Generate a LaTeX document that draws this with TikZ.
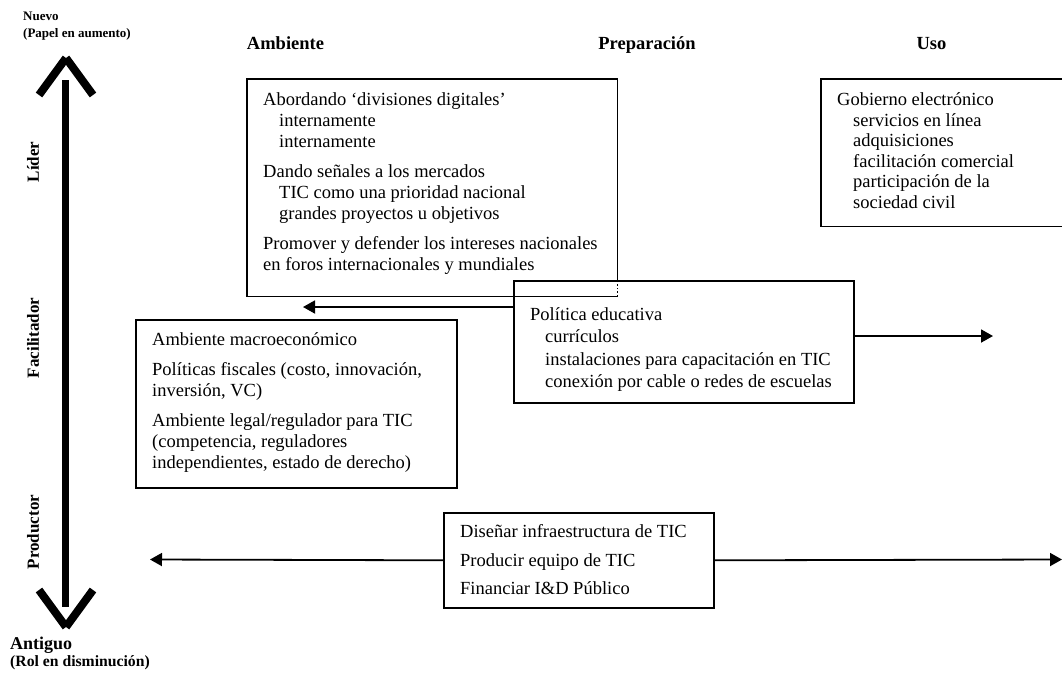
\documentclass[tikz,border=0pt]{standalone}
\usepackage{fontspec}
\setmainfont{Liberation Serif}
\usetikzlibrary{arrows.meta}
\begin{document}
\begin{tikzpicture}[x=1pt,y=-1pt,
  box/.style={draw, line width=1.6pt, rectangle, inner sep=0pt, anchor=north west},
  frame/.style={line width=1.6pt},
  txt/.style={anchor=base west, align=left, inner sep=0pt, font=\fontsize{18.5}{21}\selectfont},
  head/.style={anchor=base, inner sep=0pt, font=\fontsize{18.5}{21}\selectfont\bfseries},
  side/.style={inner sep=0pt, rotate=90, font=\fontsize{17}{20}\selectfont\bfseries},
  arr/.style={line width=1.8pt, -{Triangle[length=12pt,width=13pt]}},
  chev/.style={line width=8pt},
  bar/.style={line width=7pt}
]
\useasboundingbox (0,0) rectangle (1062,673);

% headings
\node[head] (hamb) at (285.5,49.5) {Ambiente};
\node[head] (hprep) at (647,49.5) {Preparación};
\node[head] (huso) at (931.5,49.5) {Uso};

% corner labels (base anchor = last line)
\node[anchor=base west, inner sep=0pt, align=left, font=\fontsize{13}{17}\selectfont\bfseries] (nuevo) at (23,37) {Nuevo\\(Papel en aumento)};
\node[anchor=base west, inner sep=0pt, font=\fontsize{18}{20}\selectfont\bfseries] (antiguo) at (10,649) {Antiguo};
\node[anchor=base west, inner sep=0pt, font=\fontsize{15.7}{18}\selectfont\bfseries] (rol) at (10,666) {(Rol en disminución)};

% side labels
\node[side] (lider) at (33,162) {Líder};
\node[side] (facil) at (33,338) {Facilitador};
\node[side] (prod) at (33,532) {Productor};

% vertical thick arrow
\coordinate (bartop) at (65.5,80);
\coordinate (barbot) at (65.5,607);
\draw[bar] (bartop) -- (barbot);
\coordinate (apexT) at (66,58);
\coordinate (apexB) at (66,627);
\draw[chev] (39,95) -- (apexT);
\draw[chev] (93,95) -- (apexT);
\draw[chev] (39,590) -- (apexB);
\draw[chev] (93,590) -- (apexB);

% boxes
\node[box, draw=none, minimum width=369pt, minimum height=216pt] (amb) at (247,79) {};
\node[box, fill=none, minimum width=340pt, minimum height=122pt] (pol) at (513,280) {};
\draw[frame] (pol.north -| amb.east) -- (amb.north east) -- (amb.north west) -- (amb.south west) -- (amb.south east);
\draw[frame, dotted, line width=1pt] (amb.south east) -- (pol.north -| amb.east);

\node[box, draw=none, minimum width=241pt, minimum height=146pt] (gob) at (821,79) {};
\draw[frame] (gob.north east) -- (gob.north west) -- (gob.south west) -- (gob.south east);

\node[box, minimum width=321pt, minimum height=168pt] (mac) at (135,319) {};
\node[box, minimum width=270pt, minimum height=95pt] (dis) at (443,512) {};

% texts (anchored at the baseline of their last line)
\node[txt] (ambt) at (263,270.5) {Abordando ‘divisiones digitales’\\
\hspace*{16pt}internamente\\
\hspace*{16pt}internamente\\[9pt]
Dando señales a los mercados\\
\hspace*{16pt}TIC como una prioridad nacional\\
\hspace*{16pt}grandes proyectos u objetivos\\[9pt]
Promover y defender los intereses nacionales\\
en foros internacionales y mundiales};

\node[txt, font=\fontsize{18.5}{20.6}\selectfont] (gobt) at (837,208.5) {Gobierno electrónico\\
\hspace*{16pt}servicios en línea\\
\hspace*{16pt}adquisiciones\\
\hspace*{16pt}facilitación comercial\\
\hspace*{16pt}participación de la\\
\hspace*{16pt}sociedad civil};

\node[txt] (mact) at (152,468.5) {Ambiente macroeconómico\\[9pt]
Políticas fiscales (costo, innovación,\\
inversión, VC)\\[9pt]
Ambiente legal/regulador para TIC\\
(competencia, reguladores\\
independientes, estado de derecho)};

\node[txt, font=\fontsize{18.5}{22.3}\selectfont] (polt) at (530,387.4) {Política educativa\\
\hspace*{15pt}currículos\\
\hspace*{15pt}instalaciones para capacitación en TIC\\
\hspace*{15pt}conexión por cable o redes de escuelas};

\node[txt] (dist) at (460,594.5) {Diseñar infraestructura de TIC\\[7.5pt]
Producir equipo de TIC\\[7.5pt]
Financiar I\&D Público};

% connectors
\coordinate (ltip) at (303,307);
\coordinate (rtip) at (993,336);
\coordinate (blt) at (150,559.5);
\coordinate (brt) at (1062,559.5);
\draw[arr] (ltip -| pol.west) -- (ltip);
\draw[arr] (rtip -| pol.east) -- (rtip);
\draw[arr] (dis.west) -- (blt);
\draw[arr] (dis.east) -- (brt);
\end{tikzpicture}
\end{document}
